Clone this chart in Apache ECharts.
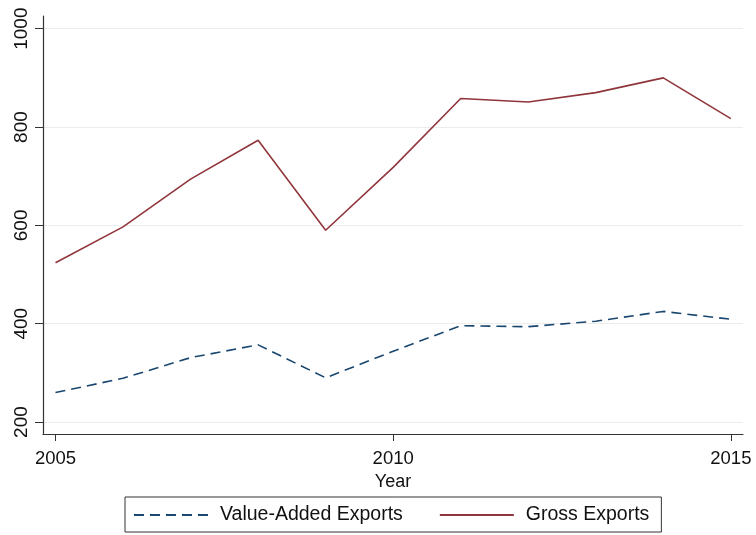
<!DOCTYPE html>
<html>
<head>
<meta charset="utf-8">
<script src="https://cdn.jsdelivr.net/npm/echarts@6/dist/echarts.min.js"></script>
<style>
  html, body { margin: 0; padding: 0; background: #ffffff; }
  #chart { width: 756px; height: 535px; }
</style>
</head>
<body>
<div id="chart"></div>
<script>
// Years and export values (millions)
const years = [2005, 2006, 2007, 2008, 2009, 2010, 2011, 2012, 2013, 2014, 2015];
const valueAddedExports = [260, 289, 331, 357, 290, 344, 396, 394, 405, 425, 409];
const grossExports = [524, 597, 694, 773, 590, 718, 858, 851, 870, 900, 817];
const xTickValues = [2005, 2010, 2015];
const yTickValues = [200, 400, 600, 800, 1000];

const font = '"Liberation Sans", Arial, Helvetica, sans-serif';
const navy = '#1a476f';
const maroon = '#90353b';
const axisColor = '#333333';

const pairs = vals => years.map((y, i) => [y, vals[i]]);

const chart = echarts.init(document.getElementById('chart'), null, { renderer: 'canvas' });
chart.setOption({
  backgroundColor: '#ffffff',
  animation: false,
  textStyle: { fontFamily: font },
  grid: { left: 43, right: 13, top: 16, bottom: 101, containLabel: false },
  xAxis: {
    type: 'value',
    min: 2004.815,
    max: 2015.18,
    name: 'Year',
    nameLocation: 'middle',
    nameGap: 35,
    nameTextStyle: { fontFamily: font, fontSize: 18, color: '#111' },
    axisLine: { show: true, onZero: false, lineStyle: { color: axisColor, width: 1.2 } },
    axisTick: { show: true, length: 7, customValues: xTickValues, lineStyle: { color: axisColor, width: 1 } },
    axisLabel: { customValues: xTickValues, margin: 15, fontFamily: font, fontSize: 18.5, color: '#111',
                 formatter: v => String(v) },
    splitLine: { show: false }
  },
  yAxis: {
    type: 'value',
    min: 175.7,
    max: 1025.8,
    axisLine: { show: true, onZero: false, lineStyle: { color: axisColor, width: 1.2 } },
    axisTick: { show: true, length: 8, customValues: yTickValues, lineStyle: { color: axisColor, width: 1 } },
    axisLabel: { customValues: yTickValues, rotate: 90, margin: 12, fontFamily: font, fontSize: 19, color: '#111',
                 formatter: v => String(v) },
    splitLine: { show: true, lineStyle: { color: '#ececec', width: 1.2 } }
  },
  legend: {
    left: 125,
    bottom: 3,
    orient: 'horizontal',
    borderColor: axisColor,
    borderWidth: 1,
    padding: [8, 12, 7, 8],
    itemWidth: 74,
    itemHeight: 14,
    itemGap: 36,
    itemStyle: { opacity: 0 },
    textStyle: { fontFamily: font, fontSize: 19.5, color: '#111', padding: [0, 0, 0, 7] },
    data: ['Value-Added Exports', 'Gross Exports']
  },
  series: [
    {
      name: 'Value-Added Exports',
      type: 'line',
      data: pairs(valueAddedExports),
      symbol: 'none',
      lineStyle: { color: navy, width: 1.6, type: [10, 6] },
      itemStyle: { color: navy }
    },
    {
      name: 'Gross Exports',
      type: 'line',
      data: pairs(grossExports),
      symbol: 'none',
      lineStyle: { color: maroon, width: 1.6 },
      itemStyle: { color: maroon }
    }
  ]
});
</script>
</body>
</html>
